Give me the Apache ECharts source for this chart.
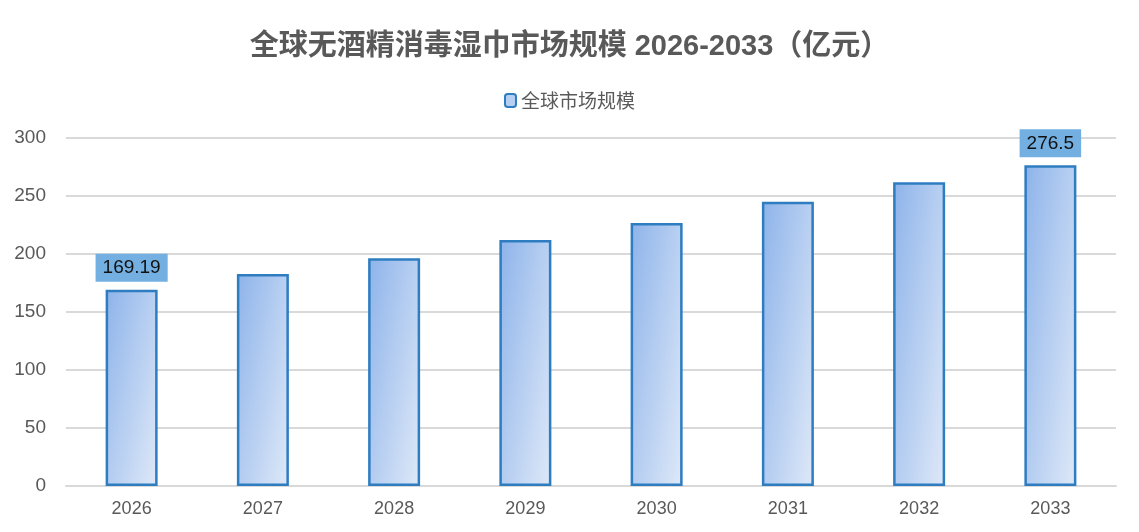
<!DOCTYPE html>
<html>
<head>
<meta charset="utf-8">
<style>
html,body{margin:0;padding:0;background:#fff;}
#main{width:1139px;height:532px;}
</style>
<script src="https://cdn.jsdelivr.net/npm/echarts@6/dist/echarts.min.js"></script>
</head>
<body>
<div id="main"></div>
<script>
// 年份与规模（亿元）
var years = ['2026','2027','2028','2029','2030','2031','2032','2033'];
var marketSize = [169.19, 182.8, 196.4, 212.1, 226.7, 245.0, 261.9, 276.5];
var labelIdx = [0, 7];

var BAR_W = 52;
var chart = echarts.init(document.getElementById('main'));

// 斜向渐变：左上深、右下浅，按柱子实际像素高度换算方向
function barFill(h) {
  var a = 0.55, b = 0.45;
  var gx = a / BAR_W, gy = b / h;
  var g2 = gx * gx + gy * gy;
  var x2 = (gx / g2) / BAR_W, y2 = (gy / g2) / h;
  return new echarts.graphic.LinearGradient(0, 0, x2, y2, [
    {offset: 0, color: '#8db3ea'},
    {offset: 1, color: '#dfe9f8'}
  ]);
}

function buildData(heights) {
  return marketSize.map(function (v, i) {
    return {
      value: v,
      label: {show: labelIdx.indexOf(i) >= 0},
      itemStyle: {color: barFill(heights ? heights[i] : 200)}
    };
  });
}

chart.setOption({
  animation: false,
  title: {
    text: '全球无酒精消毒湿巾市场规模 2026-2033（亿元）',
    left: 'center',
    top: 27,
    textStyle: {
      fontSize: 29,
      fontWeight: 'bold',
      color: '#595959',
      fontFamily: 'Liberation Sans, Noto Sans CJK SC, sans-serif'
    }
  },
  legend: {
    top: 86,
    left: 'center',
    itemWidth: 11,
    itemHeight: 13,
    itemGap: 4,
    itemStyle: {color: '#b7cff2'},
    textStyle: {fontSize: 19, color: '#595959', fontFamily: 'Noto Sans CJK SC, sans-serif'},
    data: ['全球市场规模']
  },
  grid: {left: 66, right: 23, top: 138, bottom: 46},
  xAxis: {
    type: 'category',
    data: years,
    axisLine: {lineStyle: {color: '#d9d9d9', width: 2}},
    axisTick: {show: false},
    axisLabel: {fontSize: 18, color: '#595959', margin: 14, fontFamily: 'Liberation Sans, sans-serif'}
  },
  yAxis: {
    type: 'value',
    min: 0,
    max: 300,
    interval: 50,
    axisLine: {show: false},
    axisTick: {show: false},
    splitLine: {lineStyle: {color: '#d9d9d9', width: 2}},
    axisLabel: {fontSize: 19, color: '#595959', margin: 20, fontFamily: 'Liberation Sans, sans-serif'}
  },
  series: [{
    name: '全球市场规模',
    type: 'bar',
    barWidth: BAR_W,
    data: buildData(null),
    itemStyle: {
      borderColor: '#2e7dc1',
      borderWidth: 2.5
    },
    label: {
      position: 'top',
      distance: 8,
      fontSize: 19,
      color: '#111',
      backgroundColor: '#73afe0',
      padding: [5, 7, 4, 7],
      fontFamily: 'Liberation Sans, sans-serif'
    }
  }]
});

var y0 = chart.convertToPixel({yAxisIndex: 0}, 0);
var heights = marketSize.map(function (v) {
  return y0 - chart.convertToPixel({yAxisIndex: 0}, v);
});
chart.setOption({series: [{data: buildData(heights)}]});
</script>
</body>
</html>
